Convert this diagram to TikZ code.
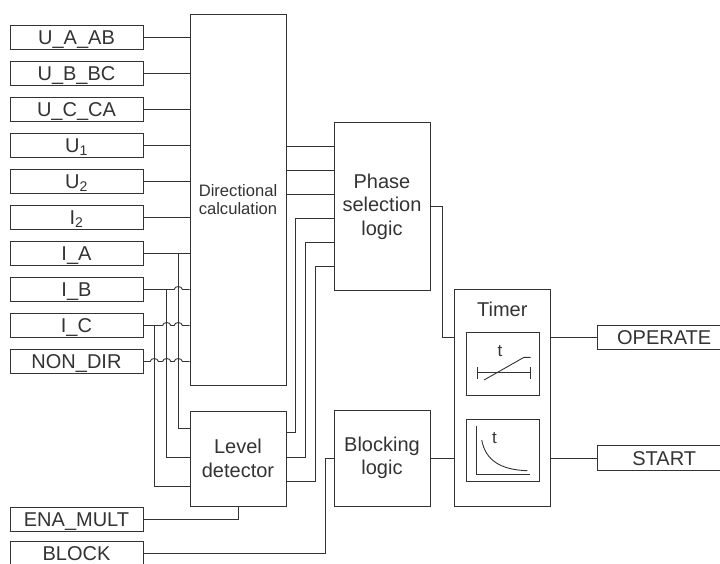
\documentclass[tikz,border=0pt]{standalone}
\usepackage{fontspec}
\setmainfont{Liberation Sans}
\usetikzlibrary{positioning, calc}

\begin{document}
\begin{tikzpicture}[x=1pt, y=-1pt, line width=0.9pt, color=black!80,
    every node/.style={font=\fontsize{20}{23.5}\selectfont, anchor=center},
    inbox/.style={draw, minimum width=133pt, minimum height=24.5pt, inner sep=0pt, text height=14.3pt, text depth=0pt},
    fblock/.style={draw, inner sep=0pt, align=center}]

    \clip (0,0) rectangle (720,563);

    % Entradas
    \foreach \nm/\lbl/\y in {ua/U\_A\_AB/37.5, ub/U\_B\_BC/73.5, uc/U\_C\_CA/109.5,
        u1/U\textsubscript{1}/145.5, u2/U\textsubscript{2}/181.5, i2/I\textsubscript{2}/217.5,
        ia/I\_A/253.5, ib/I\_B/289.5, ic/I\_C/325.5, nd/NON\_DIR/361.5,
        ena/ENA\_MULT/519.5, blkin/BLOCK/553.5}
        \node[inbox] (\nm) at (76.5,\y) {\lbl};

    % Blocos
    \node[fblock, minimum width=96pt, minimum height=371pt, font=\fontsize{16.6}{18.3}\selectfont]
        (dir) at (238,199.5) {Directional\\calculation};
    \node[fblock, minimum width=96pt, minimum height=95pt] (lvl) at (238,458.5) {Level\\detector};
    \node[fblock, minimum width=96pt, minimum height=168pt] (phs) at (382,206.7) {Phase\\selection\\logic};
    \node[fblock, minimum width=96pt, minimum height=96pt] (blk) at (382,458) {Blocking\\logic};
    \node[fblock, minimum width=95.5pt, minimum height=216.7pt] (tmr) at (502.3,397.7) {};
    \node[text height=14.3pt, text depth=0pt, inner sep=0pt] (tmrtxt) at (502.3,309) {Timer};
    \node[fblock, minimum width=73pt, minimum height=62.6pt] (tm1) at (502.5,364) {};
    \node[fblock, minimum width=73pt, minimum height=62pt] (tm2) at (502.5,450.3) {};

    % Saidas
    \node[inbox] (op) at (664.2,337.5) {OPERATE};
    \node[inbox] (st) at (664.2,458) {START};

    % Pontos auxiliares
    \coordinate (ka) at (178.3,0);
    \coordinate (kb) at (166.7,0);
    \coordinate (kc) at (154.3,0);
    \coordinate (v1) at (295.5,0);
    \coordinate (v2) at (305.5,0);
    \coordinate (v3) at (315.5,0);
    \coordinate (v4) at (442.7,0);
    \coordinate (v5) at (325,0);
    \coordinate (la) at ($(lvl.north west)+(0,18)$);
    \coordinate (lb) at ($(lvl.north west)+(0,47)$);
    \coordinate (lc) at ($(lvl.north west)+(0,76)$);
    \coordinate (lo1) at ($(lvl.north east)+(0,22)$);
    \coordinate (lo2) at ($(lvl.north east)+(0,47)$);
    \coordinate (lo3) at ($(lvl.north east)+(0,71)$);
    \foreach \k in {1,...,6}
        \coordinate (pi\k) at ($(phs.north west)+(0,24*\k)$);

    % Ligacoes para o calculo direcional
    \foreach \nm in {ua,ub,uc,u1,u2,i2,ia}
        \draw (\nm.east) -- (dir.west |- \nm.east);
    \draw (ib.east) -- ([xshift=-4pt]ka |- ib.east) arc[start angle=180, end angle=360, x radius=4, y radius=3]
        -- (dir.west |- ib.east);
    \draw (ic.east) -- ([xshift=-4pt]kb |- ic.east) arc[start angle=180, end angle=360, x radius=4, y radius=3]
        -- ([xshift=-4pt]ka |- ic.east) arc[start angle=180, end angle=360, x radius=4, y radius=3]
        -- (dir.west |- ic.east);
    \draw (nd.east) -- ([xshift=-4pt]kc |- nd.east) arc[start angle=180, end angle=360, x radius=4, y radius=3]
        -- ([xshift=-4pt]kb |- nd.east) arc[start angle=180, end angle=360, x radius=4, y radius=3]
        -- ([xshift=-4pt]ka |- nd.east) arc[start angle=180, end angle=360, x radius=4, y radius=3]
        -- (dir.west |- nd.east);

    % Derivacoes para o detector de nivel
    \draw (ka |- ia.east) |- (la);
    \draw (kb |- ib.east) |- (lb);
    \draw (kc |- ic.east) |- (lc);
    \draw (ena.east) -| (lvl.south);

    % Para a selecao de fase
    \foreach \k in {1,2,3}
        \draw (pi\k -| dir.east) -- (pi\k);
    \draw (lo1) -| (v1 |- pi4) -- (pi4);
    \draw (lo2) -| (v2 |- pi5) -- (pi5);
    \draw (lo3) -| (v3 |- pi6) -- (pi6);

    % Bloqueio e temporizador
    \draw (blkin.east) -| (v5 |- blk.west) -- (blk.west);
    \draw (phs.east) -| (v4 |- op.west) -- (tmr.west |- op.west);
    \draw (blk.east) -- (tmr.west |- blk.east);
    \draw (tmr.east |- op.west) -- (op.west);
    \draw (tmr.east |- st.west) -- (st.west);

    % Simbolos do temporizador
    \begin{scope}[shift={(tm1.center)}]
        \draw (-25.2,8.7) -- (27.5,8.7);
        \draw (-25.2,2.7) -- (-25.2,14.7);
        \draw (27.5,2.7) -- (27.5,14.7);
        \draw (-18.5,16) -- (21.5,-6.7) -- (28.2,-6.7);
        \node[font=\fontsize{17}{17}\selectfont, inner sep=0pt] (t1) at (-2.5,-13) {t};
    \end{scope}
    \begin{scope}[shift={(tm2.center)}]
        \draw (-25.8,-24.6) -- (-25.8,23.7) -- (27.5,23.7);
        \draw (-20.8,-10.3) .. controls (-17,10) and (-2,19.5) .. (24.8,20.4);
        \node[font=\fontsize{17}{17}\selectfont, inner sep=0pt] (t2) at (-8,-12) {t};
    \end{scope}

\end{tikzpicture}
\end{document}
